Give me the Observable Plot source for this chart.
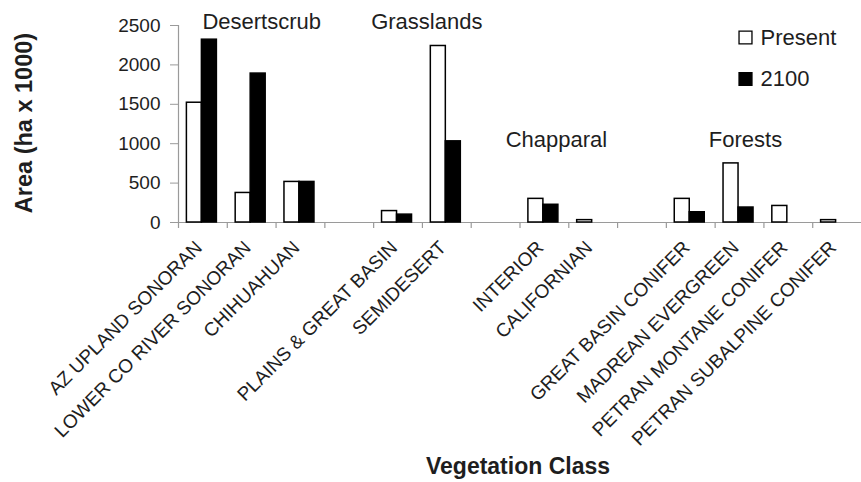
<!DOCTYPE html>
<html><head><meta charset="utf-8">
<script src="https://cdn.jsdelivr.net/npm/d3@7"></script>
<script src="https://cdn.jsdelivr.net/npm/@observablehq/plot@0.6"></script>
<style>html,body{margin:0;padding:0;background:#fff} #chart svg{display:block}</style>
</head><body><div id="chart"></div>
<script>
// ---- data ----
const categories = ["AZ UPLAND SONORAN","LOWER CO RIVER SONORAN","CHIHUAHUAN"," ",
  "PLAINS & GREAT BASIN","SEMIDESERT","  ","INTERIOR","CALIFORNIAN","   ",
  "GREAT BASIN CONIFER","MADREAN EVERGREEN","PETRAN MONTANE CONIFER","PETRAN SUBALPINE CONIFER"];
const presentValues = [1520, 375, 515, null, 145, 2240, null, 300, 30, null, 300, 750, 210, 30];
const values2100    = [2320, 1890, 515, null, 100, 1030, null, 225, 0, null, 130, 190, 0, 0];
const seriesNames = ["Present", "2100"];
const yTicks = [0, 500, 1000, 1500, 2000, 2500];
const groupNames = ["Desertscrub", "Grasslands", "Chapparal", "Forests"];
const groupAnchors = ["LOWER CO RIVER SONORAN", "SEMIDESERT", "INTERIOR", "MADREAN EVERGREEN"];
const yTitle = "Area (ha x 1000)";
const xTitle = "Vegetation Class";

// ---- layout ----
const W = 861, H = 482, ML = 178, MR = 0, MT = 25, MB = 260;
const bw = (W - ML - MR) / categories.length;
const barW = 15;
const axisGray = "#9a9a9a";
const ink = "#1e1e1e";
const font = "'Liberation Sans', Arial, Helvetica, sans-serif";

const rows = categories.flatMap((c, i) => [
  {category: c, series: seriesNames[0], value: presentValues[i]},
  {category: c, series: seriesNames[1], value: values2100[i]}
]).filter(d => d.value > 0);

const groupDx = [10, -20, 12, 6];
const groupLevels = [2450, 2450, 952, 952];

const marks = [
  // baseline
  Plot.ruleY([0], {stroke: axisGray, strokeWidth: 1.2}),
  // y axis line
  Plot.ruleX([categories[0]], {x: d => d, dx: -bw / 2, y1: 0, y2: 2500, stroke: axisGray, strokeWidth: 1.2}),
  // category boundary ticks
  Plot.ruleX(categories, {x: d => d, dx: -bw / 2, y1: 0, y2: 0, insetBottom: -6, stroke: axisGray, strokeWidth: 1.2}),
  // y ticks (gray) and labels
  Plot.axisY(yTicks, {tickSize: 8, tickFormat: () => "", color: axisGray, label: null}),
  Plot.axisY(yTicks, {tickSize: 0, tickPadding: 18, color: ink, fontSize: 19, label: null,
    tickFormat: d => String(d)}),
  // x tick labels
  Plot.axisX({tickSize: 0, tickRotate: -45, tickPadding: 22, dx: -4, color: ink, fontSize: 19,
    tickFormat: d => d.trim(), label: null}),
  // bars
  Plot.barY(rows.filter(d => d.series === seriesNames[0]), {
    x: "category", y: "value", fill: "series", stroke: "black", strokeWidth: 1.5,
    insetLeft: bw / 2 - barW - 1, insetRight: bw / 2 + 1
  }),
  Plot.barY(rows.filter(d => d.series === seriesNames[1]), {
    x: "category", y: "value", fill: "series", stroke: "black", strokeWidth: 1.5,
    insetLeft: bw / 2 - 1, insetRight: bw / 2 - barW + 1
  }),
  // group labels
  ...groupNames.map((g, i) => Plot.text([g], {
    x: () => groupAnchors[i], y: () => groupLevels[i], text: d => d, dx: groupDx[i],
    lineAnchor: "bottom", fontSize: 22, fill: ink
  })),
  // legend
  ...seriesNames.map((s, i) => Plot.dot([s], {
    frameAnchor: "top-right", dx: -116, dy: 12 + i * 41.5, symbol: "square", r: 7.3,
    fill: i === 0 ? "white" : "black", stroke: "black", strokeWidth: 1.3
  })),
  ...seriesNames.map((s, i) => Plot.text([s], {
    frameAnchor: "top-right", dx: -101, dy: 19 + i * 41, text: d => d,
    textAnchor: "start", lineAnchor: "bottom", fontSize: 22, fill: ink
  })),
  // axis titles
  Plot.text([yTitle], {frameAnchor: "left", rotate: -90, dx: -147, dy: -1, text: d => d,
    textAnchor: "middle", lineAnchor: "bottom", fontSize: 23.5, fontWeight: "bold", fill: ink}),
  Plot.text([xTitle], {frameAnchor: "bottom", dx: -2, dy: 251, text: d => d,
    textAnchor: "middle", lineAnchor: "bottom", fontSize: 23, fontWeight: "bold", fill: ink})
];

const chart = Plot.plot({
  width: W, height: H,
  marginLeft: ML, marginRight: MR, marginTop: MT, marginBottom: MB,
  style: {fontFamily: font, fontSize: "18px", background: "white", color: ink, overflow: "visible"},
  x: {type: "band", domain: categories, padding: 0, round: false},
  y: {domain: [0, 2500]},
  color: {domain: seriesNames, range: ["white", "black"]},
  marks
});
document.getElementById("chart").appendChild(chart);
</script>
</body></html>
